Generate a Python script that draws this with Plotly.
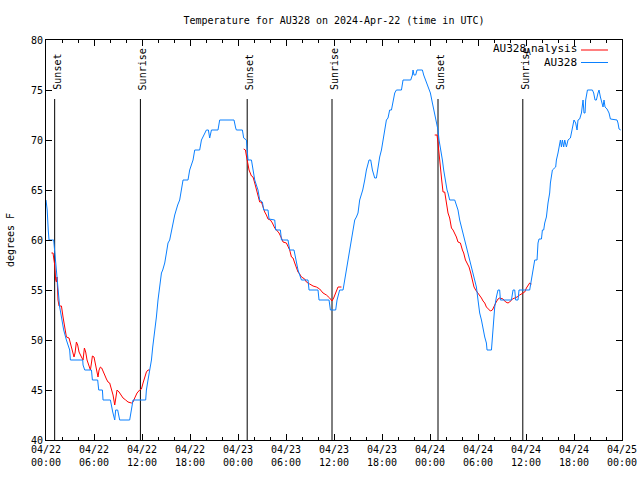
import pandas as pd
import plotly.graph_objects as go

BASE = pd.Timestamp("2024-04-22 00:00")

# AU328 observed temperature (hours since 2024-04-22 00:00 UTC, degrees F)
obs_hours = [0.00, 0.15, 0.28, 0.38, 0.96, 1.09, 1.30, 1.50, 1.71, 1.93, 2.21, 2.55, 2.96, 3.05, 4.59, 4.63,
             4.84, 5.68, 5.80, 6.46, 6.59, 7.05, 7.13, 8.05, 8.18, 8.34, 8.59, 8.71, 8.96, 9.21, 10.46, 10.68,
             10.88, 12.46, 12.55, 12.75, 12.96, 13.18, 13.34, 13.59, 13.80, 14.00, 14.21, 14.43, 14.59, 14.84,
             15.05, 15.25, 15.46, 16.09, 16.46, 16.71, 17.13, 17.75, 17.96, 18.38, 18.59, 19.21, 19.43, 19.84,
             20.05, 20.30, 20.46, 20.68, 21.50, 21.71, 23.50, 23.71, 23.80, 24.55, 24.71, 25.05, 25.13, 25.25,
             25.68, 25.88, 26.09, 26.50, 26.71, 27.05, 27.21, 27.75, 27.88, 28.59, 28.71, 29.30, 29.43, 30.25,
             30.46, 31.00, 31.21, 31.50, 31.93, 32.75, 32.88, 34.00, 34.13, 35.38, 35.55, 36.21, 36.38, 36.71,
             37.13, 37.34, 37.55, 37.75, 37.96, 38.18, 38.38, 38.59, 38.80, 39.00, 39.21, 39.59, 39.84, 40.05,
             40.38, 40.59, 40.80, 41.09, 41.30, 41.50, 41.71, 41.93, 42.13, 42.34, 42.55, 42.75, 42.96, 43.18,
             43.38, 43.59, 43.80, 44.43, 44.63, 45.59, 45.80, 45.88, 46.00, 46.21, 46.38, 47.05, 47.21, 47.46,
             47.75, 48.05, 48.30, 48.59, 48.88, 49.00, 49.13, 49.30, 49.43, 49.55, 49.71, 49.84, 49.96, 50.13,
             50.25, 50.46, 51.09, 51.21, 51.50, 51.71, 51.93, 52.13, 52.34, 52.55, 52.75, 52.96, 53.18, 53.38,
             53.59, 53.80, 54.00, 54.21, 54.43, 54.63, 54.84, 55.05, 55.13, 55.68, 55.80, 55.96, 56.09, 56.30,
             56.50, 56.71, 56.80, 58.18, 58.38, 58.59, 58.71, 59.00, 59.13, 60.46, 60.68, 60.88, 61.09, 61.38,
             61.50, 61.63, 61.93, 62.05, 62.21, 62.34, 62.55, 62.75, 62.96, 63.05, 63.30, 63.71, 63.80, 64.00,
             64.13, 64.30, 64.43, 64.55, 64.71, 64.84, 65.05, 65.25, 65.55, 65.68, 65.88, 66.00, 66.21, 66.38,
             66.50, 66.71, 66.93, 67.05, 67.13, 67.25, 67.38, 67.46, 67.55, 67.68, 68.30, 68.46, 68.63, 68.80,
             69.00, 69.13, 69.30, 69.46, 69.63, 69.75, 69.88, 70.13, 70.38, 70.55, 71.38, 71.50, 71.63, 71.84]
obs_temps = [64, 63, 61, 60, 60, 58.7, 57.5, 55.5, 53.3, 52.3, 51, 50, 49, 48, 48, 47.5,
             47, 47, 46, 46, 45, 45, 44, 44, 43.3, 42.8, 42, 43, 43, 42, 42, 43,
             44, 44, 45, 46, 47, 48, 49.3, 50.7, 52.3, 54, 55.3, 56.7, 57, 57.7,
             58.7, 59.7, 60, 62.5, 63.5, 64, 66, 66, 67, 68, 69, 69, 70, 70.7,
             71, 71, 70.2, 71, 71, 72, 72, 71.2, 71, 71, 70.2, 70, 68.7, 68,
             68, 67, 66, 65, 64, 63.8, 63, 63, 62.1, 62, 61, 61, 60, 60,
             59, 59, 58, 57, 56, 56, 55, 55, 54, 54, 53, 53, 54, 55,
             55, 56, 57, 57.8, 59, 60, 61, 62, 62.3, 62.7, 64, 65, 66, 67,
             68, 68, 67, 66.2, 66.2, 67.3, 68.3, 69, 70, 71.3, 72, 72.2, 73, 73,
             74, 74.7, 75, 75, 76, 76, 76.5, 77, 76.5, 76.5, 77, 77, 76.5, 76,
             75.5, 74.7, 73.7, 72.7, 71.7, 71, 70, 69.3, 68.7, 68, 67, 66.3, 65.7, 65,
             64.7, 64, 64, 63.7, 63, 62, 61.3, 60.7, 60, 59.3, 58.7, 58, 57.3, 56.7,
             56, 55.3, 54, 52.7, 52, 51, 50.3, 49.7, 49, 49, 50.3, 52.3, 53.3, 54.3,
             55, 55, 54, 54, 55, 55, 54, 54, 55, 55, 56, 56.7, 58, 58,
             59.7, 60.1, 60.1, 61, 61, 61.7, 62.3, 63.7, 64.7, 65.7, 67, 67.3, 68, 68.7,
             69.3, 70, 69.3, 70, 69.3, 70, 69.3, 70, 70.2, 70.8, 71.3, 72, 71.7, 71,
             72, 72.1, 72.7, 73.7, 74, 72.7, 72.7, 74, 74.3, 75, 75, 74.7, 74, 74,
             74.7, 75, 74.3, 73.7, 73.3, 74, 73.3, 73.1, 72.7, 72.1, 72, 71.7, 71.1, 71]

# AU328 analysis (three night-time segments)
ana1_hours = [0.68, 0.88, 0.96, 1.09, 1.21, 1.30, 1.38, 1.50, 1.63, 1.93, 2.13, 2.34, 2.55, 2.88, 3.05, 3.30,
              3.50, 3.63, 3.80, 3.96, 4.13, 4.43, 4.63, 4.80, 4.96, 5.13, 5.38, 5.55, 5.68, 5.80, 6.00, 6.21,
              6.38, 6.50, 6.63, 6.80, 6.96, 7.13, 7.34, 7.55, 7.75, 7.96, 8.18, 8.38, 8.59, 8.71, 8.88, 9.13,
              9.34, 9.63, 9.96, 10.25, 10.68, 10.88, 11.09, 11.38, 11.71, 11.93, 12.13, 12.34, 12.55, 12.75, 12.96]
ana1_temps = [58.7, 58.7, 58.2, 57.5, 56, 55.8, 56.3, 54, 53.4, 53.4, 52.3, 51.3, 50.3, 50.2, 49.7, 49,
              48.3, 48.7, 49.8, 49.5, 48.8, 48.3, 48, 49.2, 48.8, 48, 47.3, 47, 47.7, 48.4, 48.3, 47.3,
              46.8, 46.3, 47, 47.3, 47.2, 46.8, 46.5, 46.1, 45.8, 45.7, 45, 44.5, 43.5, 44.2, 45, 44.8,
              44.5, 44.2, 44, 43.8, 43.7, 43.8, 44.2, 44.7, 45, 45.1, 45.7, 46.3, 46.8, 47, 47]
ana2_hours = [24.71, 24.93, 25.03, 25.13, 25.38, 25.68, 25.88, 26.09, 26.30, 26.50, 26.71, 26.93, 27.13, 27.34,
              27.55, 27.75, 28.05, 28.30, 28.59, 28.80, 29.13, 29.43, 29.63, 30.05, 30.25, 30.46, 30.68, 30.88,
              31.09, 31.30, 31.50, 31.71, 31.93, 32.34, 32.55, 32.96, 33.38, 33.80, 34.21, 34.63, 35.05, 35.46,
              35.75, 35.96, 36.21, 36.50, 36.93]
ana2_temps = [69.1, 69, 68.5, 68, 67, 66.4, 66.3, 65.7, 65, 64.3, 63.8, 63.8, 63.2, 62.8,
              62.5, 62.1, 62, 61.7, 61.2, 61, 60.7, 60.2, 59.8, 59.7, 59.3, 59, 58.3, 58.2,
              57.7, 57.3, 56.8, 56.6, 56.3, 56.1, 55.8, 55.6, 55.4, 55.3, 55.1, 54.7, 54.5, 54.2,
              53.9, 54.2, 54.7, 55.3, 55.3]
ana3_hours = [48.59, 48.88, 49.00, 49.13, 49.30, 49.46, 49.63, 49.84, 50.05, 50.25, 50.46, 50.68, 50.88, 51.09,
              51.30, 51.50, 51.80, 52.05, 52.21, 52.43, 52.63, 52.88, 53.09, 53.30, 53.50, 53.71, 54.00, 54.21,
              54.43, 54.63, 54.84, 55.05, 55.25, 55.55, 55.80, 55.96, 56.21, 56.50, 56.71, 57.13, 57.46, 57.75,
              57.96, 58.30, 58.59, 58.88, 59.21, 59.55, 59.84, 60.05, 60.25, 60.46, 60.68]
ana3_temps = [70.5, 70.5, 69.7, 68.3, 67.3, 66, 64.8, 64.8, 63.7, 62.7, 62.2, 61.2, 61, 60.7,
              60.3, 59.8, 59.7, 59, 58.7, 58, 57.7, 57.3, 56.7, 56, 55.3, 55, 54.7, 54.4,
              54.2, 53.9, 53.7, 53.3, 53.1, 52.9, 53, 53.3, 53.7, 54.1, 54.2, 54.1, 53.8, 53.7,
              53.8, 54.1, 54.2, 54.3, 54.5, 54.7, 54.8, 55.2, 55.5, 55.7, 55.6]

event_times = ["2024-04-22 01:05", "2024-04-22 11:48", "2024-04-23 01:09",
               "2024-04-23 11:45", "2024-04-24 01:00", "2024-04-24 11:36"]
event_labels = ["Sunset", "Sunrise", "Sunset", "Sunrise", "Sunset", "Sunrise"]

FONT = "DejaVu Sans Mono"
RED = "#ff0000"
BLUE = "#0a80ff"
L, R, T, B = 46, 18, 40, 40
PW, PH = 640 - L - R, 480 - T - B


def px(xp):
    return (xp - L) / PW


def py(yp):
    return (480 - B - yp) / PH


def to_time(hours):
    return [BASE + pd.Timedelta(hours=h) for h in hours]


ana_x, ana_y = [], []
for hs, ts in [(ana1_hours, ana1_temps), (ana2_hours, ana2_temps), (ana3_hours, ana3_temps)]:
    if ana_x:
        ana_x.append(None)
        ana_y.append(None)
    ana_x += to_time(hs)
    ana_y += ts

fig = go.Figure()
fig.add_trace(go.Scatter(x=ana_x, y=ana_y, mode="lines", name="AU328_Analysis",
                         line=dict(color=RED, width=1), connectgaps=False))
fig.add_trace(go.Scatter(x=to_time(obs_hours), y=obs_temps, mode="lines", name="AU328",
                         line=dict(color=BLUE, width=1)))

for t, lab in zip(event_times, event_labels):
    fig.add_shape(type="line", xref="x", yref="paper", x0=t, x1=t, y0=0, y1=py(99),
                  line=dict(color="black", width=1), layer="below")
    fig.add_annotation(x=t, xref="x", y=py(92), yref="paper", text=lab, textangle=-90,
                       showarrow=False, xanchor="center", yanchor="bottom", xshift=2,
                       font=dict(family=FONT, size=10, color="black"))

# legend (gnuplot style: text right-aligned, sample line to its right)
LEG_SIZE = 11
leg_font = dict(family=FONT, size=LEG_SIZE, color="black")
y_red, y_blue = 49, 62
# "AU328" + subscript "A" + "nalysis" (gnuplot enhanced text of AU328_Analysis)
fig.add_annotation(x=px(579), y=py(y_red), xref="paper", yref="paper", text="nalysis", showarrow=False,
                   xanchor="right", yanchor="middle", font=leg_font)
fig.add_annotation(x=px(579 - 7 * 6.62), y=py(y_red + 3), xref="paper", yref="paper", text="A",
                   showarrow=False, xanchor="right", yanchor="middle",
                   font=dict(family=FONT, size=8, color="black"))
fig.add_annotation(x=px(579 - 7 * 6.62 - 4.9), y=py(y_red), xref="paper", yref="paper", text="AU328",
                   showarrow=False, xanchor="right", yanchor="middle", font=leg_font)
fig.add_annotation(x=px(579), y=py(y_blue), xref="paper", yref="paper", text="AU328", showarrow=False,
                   xanchor="right", yanchor="middle", font=leg_font)
for col, yy in [(RED, y_red + 1), (BLUE, y_blue + 0.5)]:
    fig.add_shape(type="line", xref="paper", yref="paper", x0=px(581), x1=px(608), y0=py(yy), y1=py(yy),
                  line=dict(color=col, width=1))

fig.update_layout(
    width=640, height=480, autosize=False,
    margin=dict(l=L, r=R, t=T, b=B, pad=0, autoexpand=False),
    paper_bgcolor="white", plot_bgcolor="white",
    showlegend=False,
    font=dict(family=FONT, size=10, color="black"),
    title=dict(text="Temperature for AU328 on 2024-Apr-22 (time in UTC)", x=0.5, xref="paper",
               xanchor="center", y=1 - 20 / 480, yanchor="middle", font=dict(family=FONT, size=10)),
    xaxis=dict(range=["2024-04-22 00:00", "2024-04-25 00:00"], type="date", automargin=False,
               tickformat="%m/%d<br>%H:%M", dtick=6 * 3600 * 1000, tick0="2024-04-22 00:00",
               ticks="inside", ticklen=6, tickcolor="black", showline=True, linecolor="black",
               linewidth=1, mirror="allticks", showgrid=False, zeroline=False,
               minor=dict(dtick=2 * 3600 * 1000, ticks="inside", ticklen=3, tickcolor="black", showgrid=False),
               tickfont=dict(family=FONT, size=10)),
    yaxis=dict(range=[40, 80], dtick=5, ticks="inside", ticklen=6, tickcolor="black", automargin=False,
               showline=True, linecolor="black", linewidth=1, mirror="allticks",
               showgrid=False, zeroline=False, tickfont=dict(family=FONT, size=10),
               title=dict(text="degrees F", font=dict(family=FONT, size=10), standoff=14)),
)

fig.write_html("out.html")
